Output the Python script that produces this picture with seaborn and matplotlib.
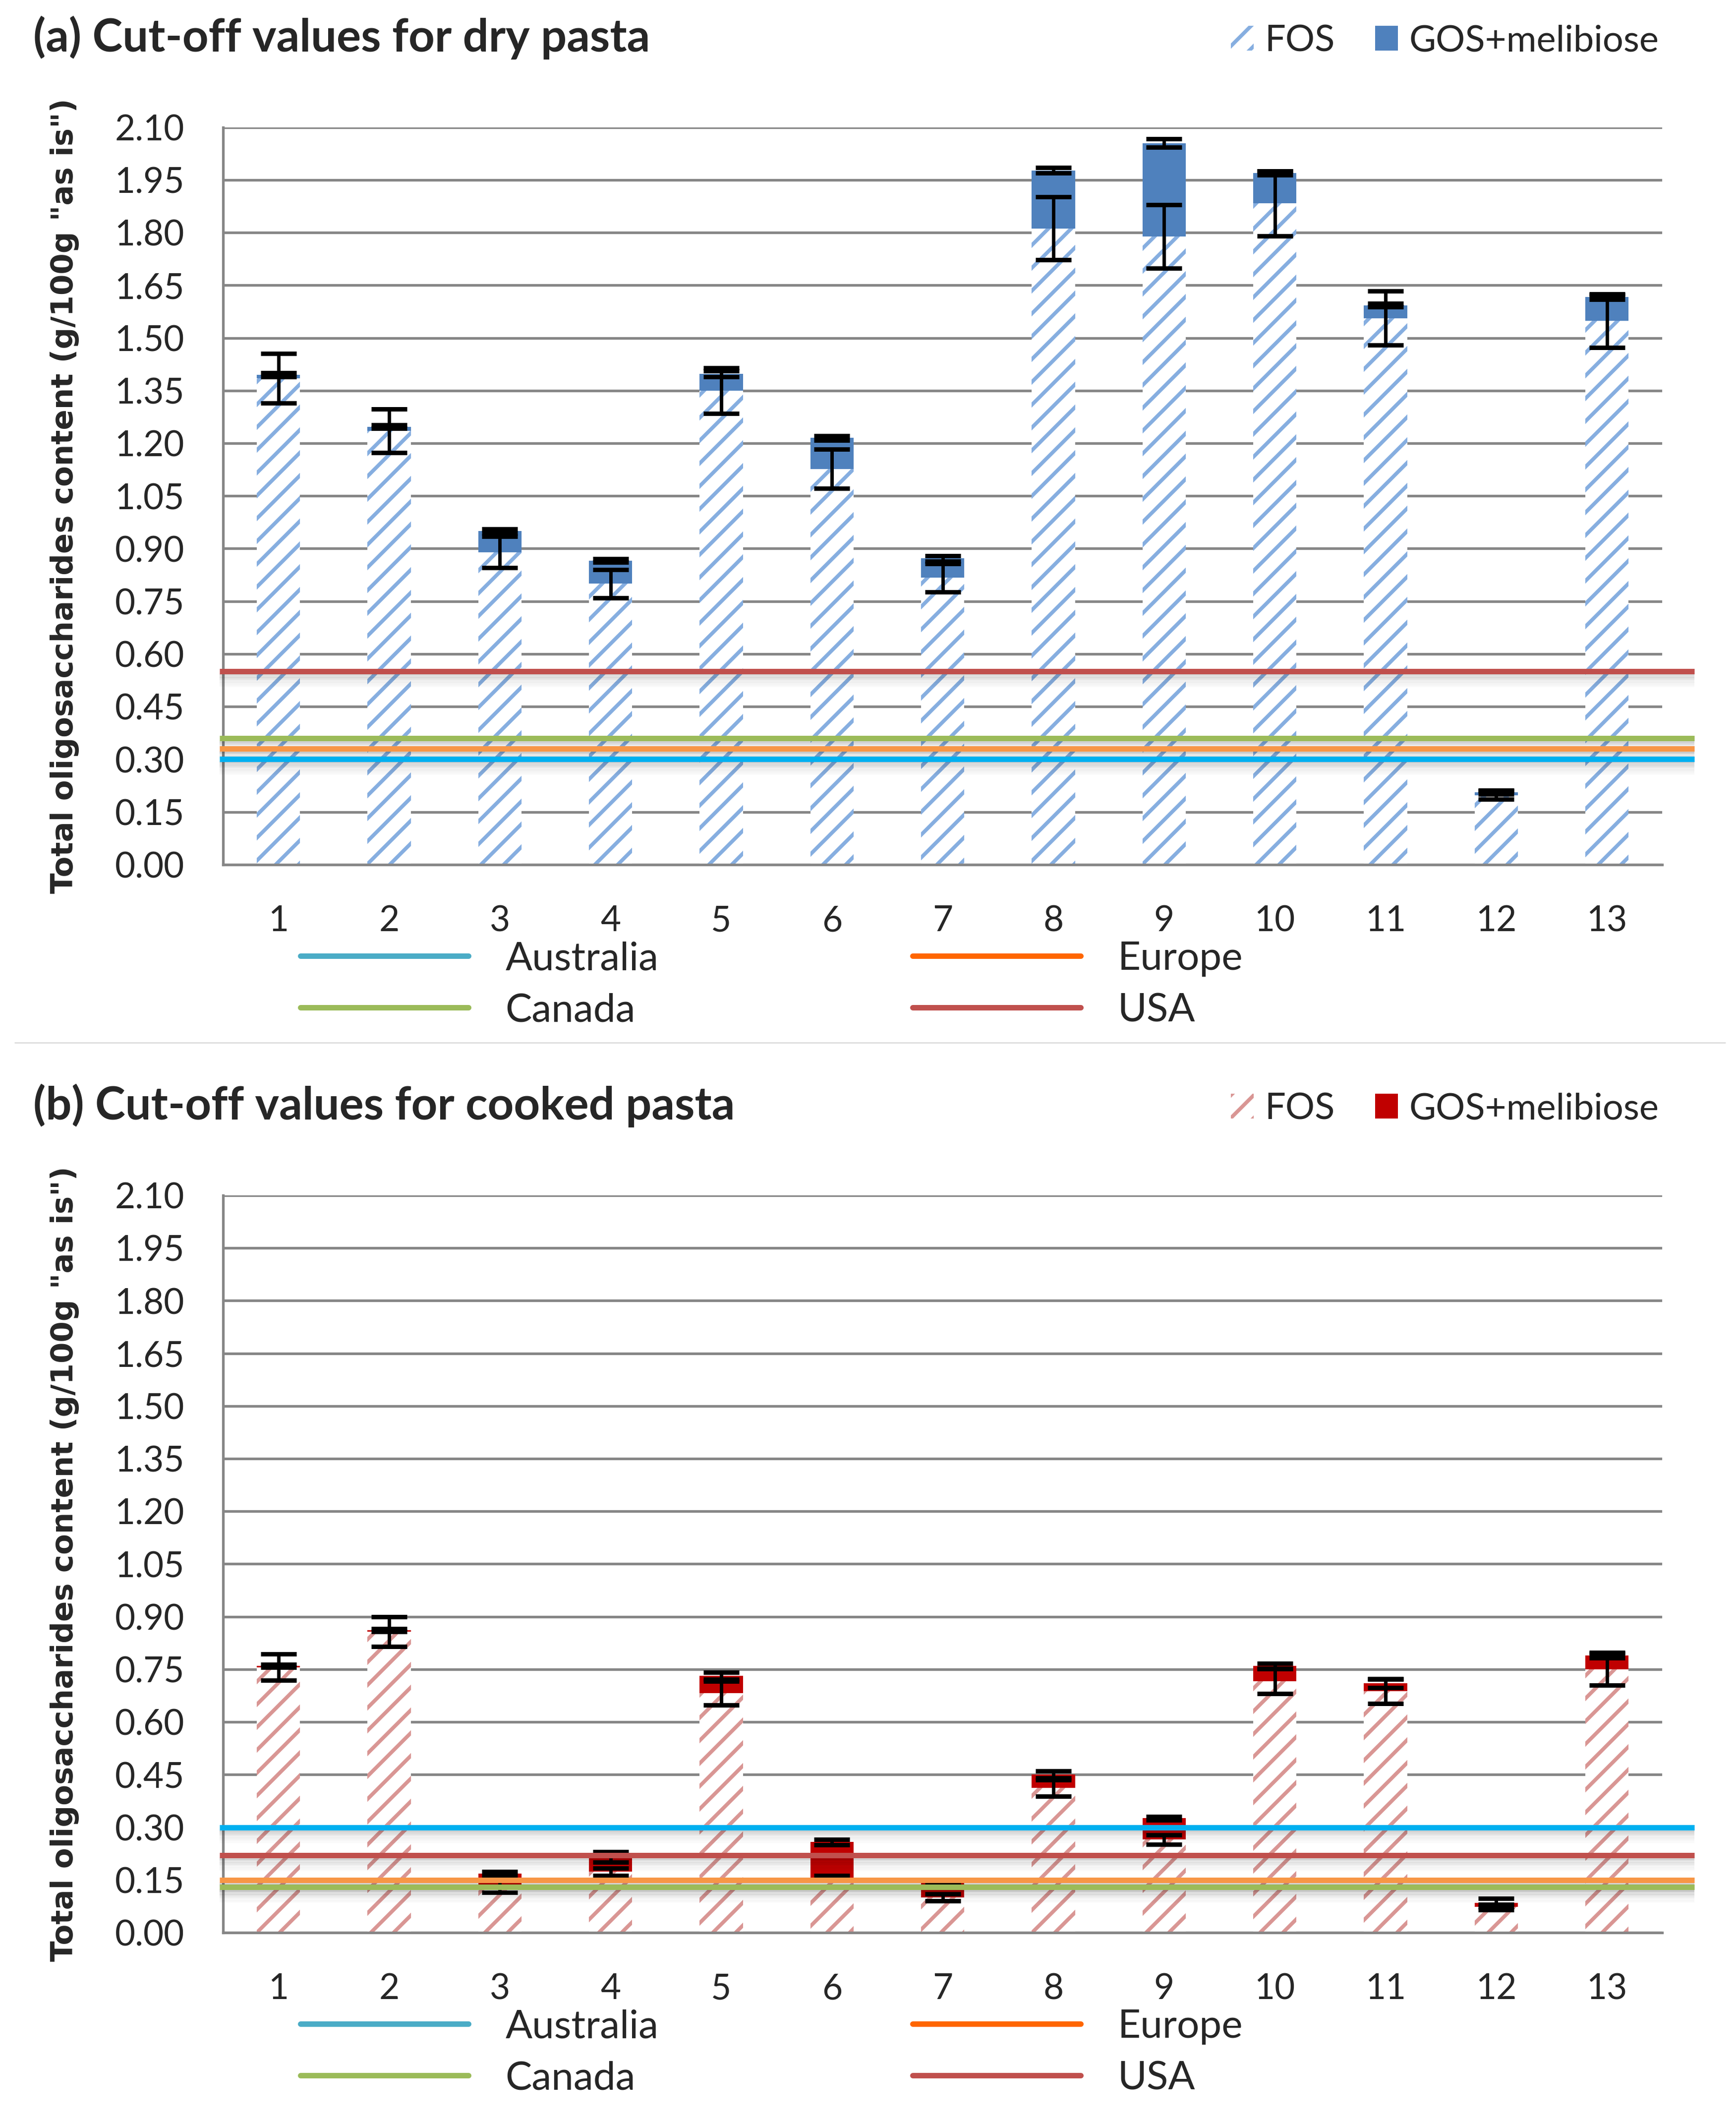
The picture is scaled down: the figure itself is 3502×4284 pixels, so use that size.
import numpy as np
import pandas as pd
import matplotlib
matplotlib.use("Agg")
import matplotlib.pyplot as plt
import matplotlib.transforms as mtransforms
from matplotlib.lines import Line2D
from matplotlib.patches import Patch
import seaborn as sns

# pasta samples
samples = ['1', '2', '3', '4', '5', '6', '7', '8', '9', '10', '11', '12', '13']
ytick_values = [0.00, 0.15, 0.30, 0.45, 0.60, 0.75, 0.90, 1.05, 1.20, 1.35, 1.50, 1.65, 1.80, 1.95, 2.10]

# (a) dry pasta, g/100g
fos_dry = [1.385, 1.235, 0.890, 0.800, 1.350, 1.127, 0.817, 1.812, 1.789, 1.883, 1.556, 0.198, 1.549]
gos_dry = [0.010, 0.012, 0.060, 0.066, 0.048, 0.088, 0.055, 0.165, 0.266, 0.087, 0.037, 0.008, 0.067]
fos_err_dry = [0.070, 0.062, 0.045, 0.040, 0.065, 0.056, 0.040, 0.090, 0.090, 0.092, 0.077, 0.012, 0.076]
gos_err_dry = [0.005, 0.005, 0.006, 0.005, 0.008, 0.006, 0.008, 0.008, 0.012, 0.006, 0.005, 0.006, 0.006]

# (b) cooked pasta, g/100g
fos_cooked = [0.756, 0.857, 0.133, 0.173, 0.682, 0.157, 0.100, 0.412, 0.265, 0.716, 0.687, 0.073, 0.750]
gos_cooked = [0.004, 0.004, 0.035, 0.042, 0.050, 0.101, 0.045, 0.038, 0.061, 0.044, 0.023, 0.012, 0.040]
fos_err_cooked = [0.037, 0.042, 0.018, 0.011, 0.034, 0.006, 0.010, 0.023, 0.013, 0.035, 0.034, 0.008, 0.045]
gos_err_cooked = [0.004, 0.004, 0.006, 0.015, 0.010, 0.008, 0.005, 0.010, 0.005, 0.007, 0.013, 0.012, 0.008]

# cut-off values
regions = ['Australia', 'Canada', 'Europe', 'USA']
cutoff_dry = [0.30, 0.36, 0.33, 0.55]
cutoff_cooked = [0.30, 0.13, 0.15, 0.22]
line_colors = {'Australia': '#00B0F0', 'Canada': '#9BBB59', 'Europe': '#F79646', 'USA': '#C0504D'}
legend_colors = {'Australia': '#4BACC6', 'Canada': '#9BBB59', 'Europe': '#FF6600', 'USA': '#C0504D'}

W, H = 3502, 4284
DPI = 138  # hatch period follows the dpi, 138 gives the coarse stripes of the original
GRID = '#868686'


def pt(px):
    return px * 72.0 / DPI


sns.set_style("white")
plt.rcParams['font.family'] = ['Lato', 'DejaVu Sans']
plt.rcParams['hatch.linewidth'] = pt(7.5)

fig = plt.figure(figsize=((W + 0.3) / DPI, (H + 0.3) / DPI), dpi=DPI)


def panel(y0, fos, gos, fos_err, gos_err, cutoffs, fos_color, gos_color, title):
    ax = fig.add_axes([450 / W, 1 - (1744 + y0) / H, 2903 / W, 1487 / H])
    df = pd.DataFrame({'sample': samples, 'FOS': fos,
                       'total': np.array(fos) + np.array(gos)})
    sns.barplot(data=df, x='sample', y='total', color=gos_color, saturation=1,
                width=0.39, errorbar=None, linewidth=0, ax=ax, zorder=2)
    n0 = len(ax.patches)
    sns.barplot(data=df, x='sample', y='FOS', color='white', saturation=1,
                width=0.39, errorbar=None, linewidth=0, ax=ax, zorder=2)
    for p in ax.patches[n0:]:
        p.set_facecolor('white')
        p.set_edgecolor(fos_color)
        p.set_linewidth(0)
        p.set_hatch('/')

    xpos = np.arange(len(samples))
    ekw = dict(fmt='none', ecolor='black', elinewidth=pt(7), capsize=pt(36),
               capthick=pt(9), zorder=4)
    ax.errorbar(xpos, df['FOS'], yerr=fos_err, **ekw)
    ax.errorbar(xpos, df['total'], yerr=gos_err, **ekw)

    # cut-off lines with a soft shadow, running a bit past the plot
    for reg, val in zip(regions, cutoffs):
        for k, a in enumerate([0.16, 0.13, 0.10, 0.08, 0.06, 0.04, 0.03, 0.02]):
            tr = mtransforms.offset_copy(ax.transData, fig=fig, y=-pt(7 + 3.3 * k), units='points')
            ax.plot([-0.53, 12.79], [val, val], color='black', alpha=a, lw=pt(3.6),
                    transform=tr, clip_on=False, zorder=5, solid_capstyle='butt')
    for reg, val in zip(regions, cutoffs):
        ax.plot([-0.53, 12.79], [val, val], color=line_colors[reg], lw=pt(11),
                clip_on=False, zorder=6, solid_capstyle='butt')

    ax.set_xlim(-0.5, 12.5)
    ax.set_ylim(0, 2.10)
    ax.set_yticks(ytick_values)
    ax.set_yticklabels(['%.2f' % v for v in ytick_values])
    ax.set_xticks(xpos)
    ax.set_xticklabels(samples)
    ax.set_xticks(np.arange(-0.5, 13, 1), minor=True)
    ax.set_xlabel('')
    ax.set_ylabel('')
    ax.yaxis.grid(True, color=GRID, linewidth=pt(5.3))
    ax.xaxis.grid(False)
    ax.set_axisbelow(True)
    for s in ['top', 'right']:
        ax.spines[s].set_visible(False)
    for s in ['left', 'bottom']:
        ax.spines[s].set_color(GRID)
        ax.spines[s].set_linewidth(pt(5.3))
    ax.tick_params(axis='y', length=pt(28), width=pt(5.3), color=GRID, pad=pt(50), labelsize=pt(71))
    ax.tick_params(axis='x', which='major', length=0, pad=pt(81), labelsize=pt(71))
    ax.tick_params(axis='x', which='minor', length=pt(26), width=pt(5.3), color=GRID, direction='out')

    fig.text(67 / W, 1 - (104 + y0) / H, title, fontsize=pt(92), fontweight='bold',
             va='baseline', ha='left')
    fig.text(130 / W, 1 - (1000 + y0) / H, 'Total oligosaccharides content (g/100g "as is")',
             rotation=90, ha='center', va='center', fontsize=pt(61), fontweight='bold',
             family='DejaVu Sans')

    top_handles = [Patch(facecolor='white', edgecolor=fos_color, hatch='/', linewidth=0),
                   Patch(facecolor=gos_color, linewidth=0)]
    leg1 = ax.legend(top_handles, ['FOS', 'GOS+melibiose'], ncol=2, frameon=False, fontsize=pt(74),
                     loc='lower right', bbox_to_anchor=(3346 / W, 1 - (116 + y0) / H),
                     bbox_transform=fig.transFigure, borderpad=0, borderaxespad=0,
                     handlelength=0.62, handleheight=0.66, handletextpad=0.3, columnspacing=1.1)
    ax.add_artist(leg1)

    line_handles = [Line2D([], [], color=legend_colors[r], lw=pt(11)) for r in regions]
    ax.legend(line_handles, regions, ncol=2, frameon=False, fontsize=pt(80),
              loc='upper left', bbox_to_anchor=(606 / W, 1 - (1898 + y0) / H),
              bbox_transform=fig.transFigure, borderpad=0, borderaxespad=0,
              handlelength=4.24, handletextpad=0.93, columnspacing=6.4, labelspacing=0.4)
    return ax


panel(0, fos_dry, gos_dry, fos_err_dry, gos_err_dry, cutoff_dry,
      '#86AEE0', '#4F81BD', '(a) Cut-off values for dry pasta')
panel(2154, fos_cooked, gos_cooked, fos_err_cooked, gos_err_cooked, cutoff_cooked,
      '#D99694', '#C00000', '(b) Cut-off values for cooked pasta')

# thin separator between the two panels
fig.add_artist(Line2D([30 / W, 3480 / W], [1 - 2103 / H, 1 - 2103 / H], color='#D9D9D9', lw=pt(2.5)))

fig.savefig('out.png', dpi=DPI, facecolor='white')
